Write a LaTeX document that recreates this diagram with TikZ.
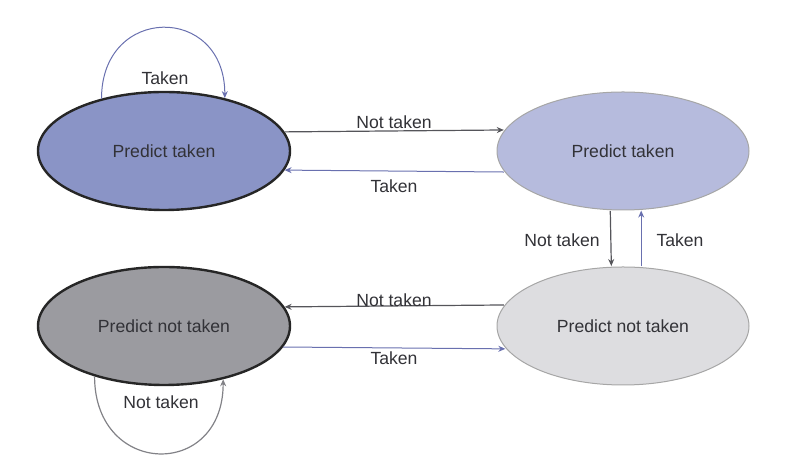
\documentclass[tikz,border=0pt]{standalone}
\usepackage{fontspec}
\setmainfont{Liberation Sans}
\usetikzlibrary{shapes.geometric,arrows.meta}
\definecolor{fillA}{RGB}{138,148,198}
\definecolor{fillB}{RGB}{182,187,221}
\definecolor{fillC}{RGB}{155,155,160}
\definecolor{fillD}{RGB}{221,221,224}
\definecolor{txt}{RGB}{50,50,55}
\definecolor{ntline}{RGB}{85,85,90}
\definecolor{tkline}{RGB}{105,112,175}
\definecolor{loopgray}{RGB}{130,130,135}
\tikzset{
  state/.style={ellipse, inner sep=0pt, outer sep=0.6pt, minimum width=126pt, minimum height=59pt, text=txt, font=\fontsize{8.8}{10}\selectfont},
  strong/.style={state, draw=black!85, line width=1.2pt},
  weak/.style={state, draw=black!35, line width=0.5pt},
  lbl/.style={text=txt, font=\fontsize{8.8}{10}\selectfont, inner sep=0pt},
  ntarrow/.style={draw=ntline, line width=0.6pt, -{Stealth[length=3.5pt,width=3pt]}},
  tkarrow/.style={draw=tkline, line width=0.5pt, -{Stealth[length=3.5pt,width=3pt]}},
}
\begin{document}
\begin{tikzpicture}[x=0.5pt,y=0.5pt]
\useasboundingbox (0,0) rectangle (800,476);
\node[strong, fill=fillA] (tl) at (164,325) {Predict taken};
\node[weak, fill=fillB] (tr) at (623,325) {Predict taken};
\node[strong, fill=fillC] (bl) at (164,150) {Predict not taken};
\node[weak, fill=fillD] (br) at (623,150) {Predict not taken};
% top horizontal
\draw[ntarrow] (tl.9.6) -- (tr.170.4);
\draw[tkarrow] (tr.-170.8) -- (tl.-9.2);
\node[lbl] (l1) at (394,354) {Not taken};
\node[lbl] (l2) at (394,290) {Taken};
% bottom horizontal
\draw[ntarrow] (br.170.8) -- (bl.9.2);
\draw[tkarrow] (bl.-10.5) -- (br.-169.5);
\node[lbl] (l3) at (394,176) {Not taken};
\node[lbl] (l4) at (394,118) {Taken};
% vertical
\draw[ntarrow] (tr.258.3) -- (br.101.7);
\draw[tkarrow] (br.73.4) -- (tr.-73.4);
\node[lbl] (l5) at (562,236) {Not taken};
\node[lbl] (l6) at (680,236) {Taken};
% self loops
\draw[tkarrow] (tl.140) to[out=90,in=90,looseness=1.95] (tl.41);
\node[lbl] (l7) at (165,398) {Taken};
\draw[draw=loopgray, line width=0.6pt, -{Stealth[length=3.5pt,width=3pt]}] (bl.-144) to[out=-90,in=-90,looseness=2.0] (bl.-42);
\node[lbl] (l8) at (161,74) {Not taken};
\end{tikzpicture}
\end{document}
